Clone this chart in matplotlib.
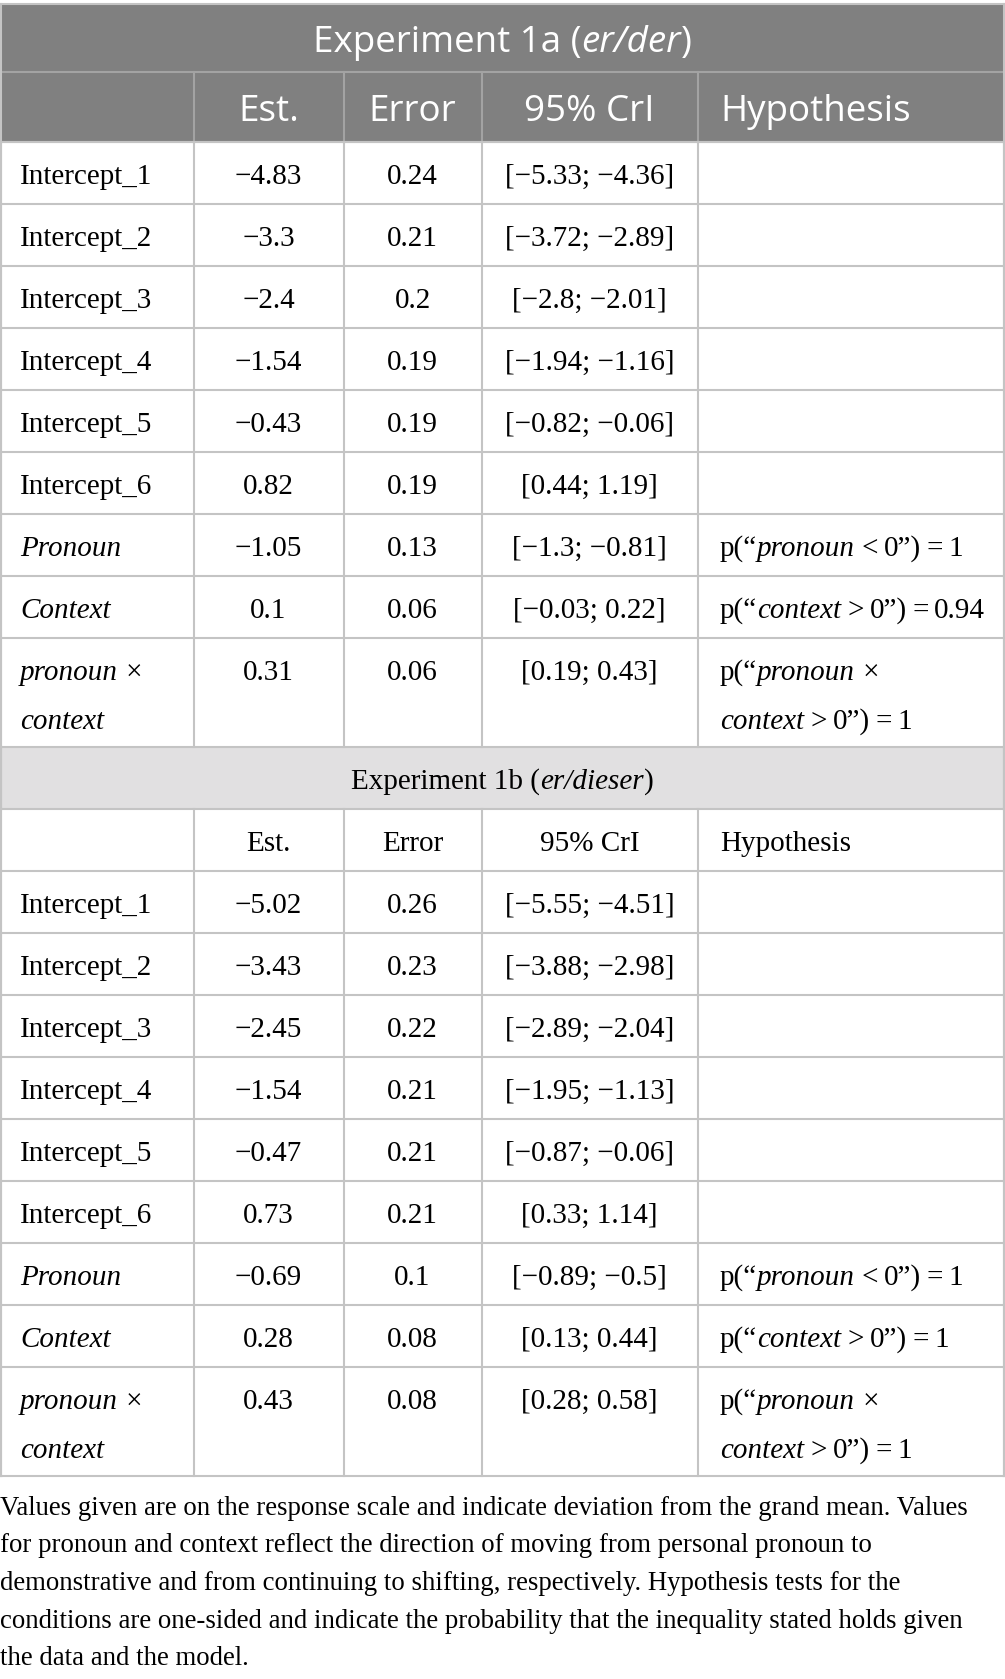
import matplotlib
matplotlib.use('Agg')
import matplotlib.pyplot as plt
from matplotlib.patches import Rectangle

# ---------------- data ----------------
col_headers = ["Est.", "Error", "95% CrI", "Hypothesis"]

labels = ["Intercept_1", "Intercept_2", "Intercept_3", "Intercept_4",
          "Intercept_5", "Intercept_6", "Pronoun", "Context", "pronoun ×\ncontext"]
label_italic = [False] * 6 + [True] * 3

est_1a = ["−4.83", "−3.3", "−2.4", "−1.54", "−0.43", "0.82", "−1.05", "0.1", "0.31"]
err_1a = ["0.24", "0.21", "0.2", "0.19", "0.19", "0.19", "0.13", "0.06", "0.06"]
cri_1a = ["[−5.33; −4.36]", "[−3.72; −2.89]", "[−2.8; −2.01]", "[−1.94; −1.16]",
          "[−0.82; −0.06]", "[0.44; 1.19]", "[−1.3; −0.81]", "[−0.03; 0.22]", "[0.19; 0.43]"]
hyp_p_1a = [None] * 6 + ["1", "0.94", "1"]

est_1b = ["−5.02", "−3.43", "−2.45", "−1.54", "−0.47", "0.73", "−0.69", "0.28", "0.43"]
err_1b = ["0.26", "0.23", "0.22", "0.21", "0.21", "0.21", "0.1", "0.08", "0.08"]
cri_1b = ["[−5.55; −4.51]", "[−3.88; −2.98]", "[−2.89; −2.04]", "[−1.95; −1.13]",
          "[−0.87; −0.06]", "[0.33; 1.14]", "[−0.89; −0.5]", "[0.13; 0.44]", "[0.28; 0.58]"]
hyp_p_1b = [None] * 6 + ["1", "1", "1"]

hyp_terms = [None] * 6 + ["pronoun", "context", "pronoun ×\ncontext"]
hyp_ops = [None] * 6 + ["<", ">", ">"]

title_1a = [("Experiment 1a (", False), ("er/der", True), (")", False)]
title_1b = [("Experiment 1b (", False), ("er/dieser", True), (")", False)]

caption = [
    "Values given are on the response scale and indicate deviation from the grand mean. Values",
    "for pronoun and context reflect the direction of moving from personal pronoun to",
    "demonstrative and from continuing to shifting, respectively. Hypothesis tests for the",
    "conditions are one-sided and indicate the probability that the inequality stated holds given",
    "the data and the model.",
]

# ---------------- layout ----------------
W, H = 1005, 1679
fig = plt.figure(figsize=(W / 100, H / 100), dpi=100)
ax = fig.add_axes([0, 0, 1, 1])
ax.set_xlim(0, W)
ax.set_ylim(H, 0)
ax.axis('off')
renderer = fig.canvas.get_renderer()

SERIF = ['Liberation Serif', 'DejaVu Serif']
SANS = ['Open Sans', 'DejaVu Sans']
BODY = 21
HEAD = 26.5
CAP = 19.3

X0, X1 = 1, 1004
cols = [X0, 193.5, 343.5, 481.5, 697.6, X1]
centers = [(cols[i] + cols[i + 1]) / 2 for i in range(5)]
HYP_X = 720
LAB_X = 20

TOP = 4
H1, H2 = 68, 70
ROW, DBL = 62, 109
LINE_GAP = 49

HEAD_BG = '#808080'
SUB_BG = '#e1e0e1'
GRID = '#c4c4c4'
GRID_H = '#a3a3a3'
THIN = 5.5  # px gap around relational / equals signs


def measure(text, size, family, italic):
    t = ax.text(0, 0, text, fontsize=size, family=family,
                style='italic' if italic else 'normal')
    w = t.get_window_extent(renderer).width
    t.remove()
    return w


def space_w(size, family, italic):
    return measure("n n", size, family, italic) - measure("nn", size, family, italic)


def draw_segments(x, y, segs, size, family, color='black', ha='left'):
    """segs: list of (text, italic) or ('GAP', px)."""
    items = []
    total = 0
    for text, it in segs:
        if text == 'GAP':
            total += it
            continue
        sw = space_w(size, family, it)
        lead = len(text) - len(text.lstrip(' '))
        trail = len(text) - len(text.rstrip(' '))
        core = text.strip(' ')
        w = measure(core, size, family, it) if core else 0
        items.append((total + lead * sw, core, it))
        total += lead * sw + w + trail * sw
    if ha == 'center':
        x = x - total / 2
    for off, core, it in items:
        if core:
            ax.text(x + off, y, core, fontsize=size, family=family, color=color,
                    style='italic' if it else 'normal', va='baseline', ha='left')


def txt(x, y, s, size=BODY, family=SERIF, italic=False, ha='center', color='black'):
    ax.text(x, y, s, fontsize=size, family=family, color=color, ha=ha, va='baseline',
            style='italic' if italic else 'normal')


def hyp_lines(term, op, p):
    parts = term.split("\n")
    tail = [('GAP', THIN + 1), (op, False), ('GAP', THIN), ("0”)", False),
            ('GAP', THIN), ("=", False), ('GAP', THIN), (p, False)]
    if len(parts) == 1:
        return [[("p(“", False), (parts[0], True)] + tail]
    return [[("p(“", False), (parts[0], True)],
            [(parts[1], True)] + tail]


def draw_block(y, est, err, cri, hyp_p):
    bounds = [y]
    for i in range(len(labels)):
        h = DBL if "\n" in labels[i] else ROW
        base = y + 42
        lab_parts = labels[i].split("\n")
        for k, part in enumerate(lab_parts):
            txt(LAB_X, base + k * LINE_GAP, part, italic=label_italic[i], ha='left')
        txt(centers[1], base, est[i])
        txt(centers[2], base, err[i])
        txt(centers[3], base, cri[i])
        if hyp_p[i] is not None:
            for k, segs in enumerate(hyp_lines(hyp_terms[i], hyp_ops[i], hyp_p[i])):
                draw_segments(HYP_X, base + k * LINE_GAP, segs, BODY, SERIF)
        y += h
        bounds.append(y)
    return bounds


# ---- block 1 header ----
y = TOP
ax.add_patch(Rectangle((X0, y), X1 - X0, H1 + H2, facecolor=HEAD_BG, edgecolor='none', zorder=0))
draw_segments(W / 2, y + 48, title_1a, HEAD, SANS, color='white', ha='center')
y += H1
ax.plot([X0, X1], [y, y], color=GRID_H, lw=1.5, zorder=1)
for cx in cols[1:-1]:
    ax.plot([cx, cx], [y, y + H2], color=GRID_H, lw=1.5, zorder=1)
for j, hname in enumerate(col_headers):
    if hname == "Hypothesis":
        txt(HYP_X, y + 49, hname, size=HEAD, family=SANS, ha='left', color='white')
    else:
        txt(centers[j + 1], y + 49, hname, size=HEAD, family=SANS, color='white')
y += H2
ax.plot([X0, X1], [y, y], color=GRID, lw=1.5, zorder=1)

b1 = draw_block(y, est_1a, err_1a, cri_1a, hyp_p_1a)
for by in b1:
    ax.plot([X0, X1], [by, by], color=GRID, lw=1.5, zorder=1)
for cx in cols:
    ax.plot([cx, cx], [b1[0], b1[-1]], color=GRID, lw=1.5, zorder=1)

# ---- block 2 header ----
y = b1[-1]
ax.add_patch(Rectangle((X0, y), X1 - X0, ROW, facecolor=SUB_BG, edgecolor='none', zorder=0))
draw_segments(W / 2, y + 42, title_1b, BODY, SERIF, ha='center')
ax.plot([X0, X0], [y, y + ROW], color=GRID, lw=1.5, zorder=1)
ax.plot([X1, X1], [y, y + ROW], color=GRID, lw=1.5, zorder=1)
y += ROW
for j, hname in enumerate(col_headers):
    if hname == "Hypothesis":
        txt(HYP_X, y + 42, hname, ha='left')
    else:
        txt(centers[j + 1], y + 42, hname)
hdr_top = y
y += ROW
b2 = draw_block(y, est_1b, err_1b, cri_1b, hyp_p_1b)
for by in [hdr_top] + b2:
    ax.plot([X0, X1], [by, by], color=GRID, lw=1.5, zorder=1)
for cx in cols:
    ax.plot([cx, cx], [hdr_top, b2[-1]], color=GRID, lw=1.5, zorder=1)

# outer border
ax.plot([X0, X1], [TOP, TOP], color=GRID, lw=1.5, zorder=1)
ax.plot([X0, X0], [TOP, b2[-1]], color=GRID, lw=1.5, zorder=1)
ax.plot([X1, X1], [TOP, b2[-1]], color=GRID, lw=1.5, zorder=1)

# ---- caption ----
cy = 1515
for line in caption:
    txt(0, cy, line, size=CAP, ha='left')
    cy += 37.5

fig.savefig("out.png", dpi=100)
